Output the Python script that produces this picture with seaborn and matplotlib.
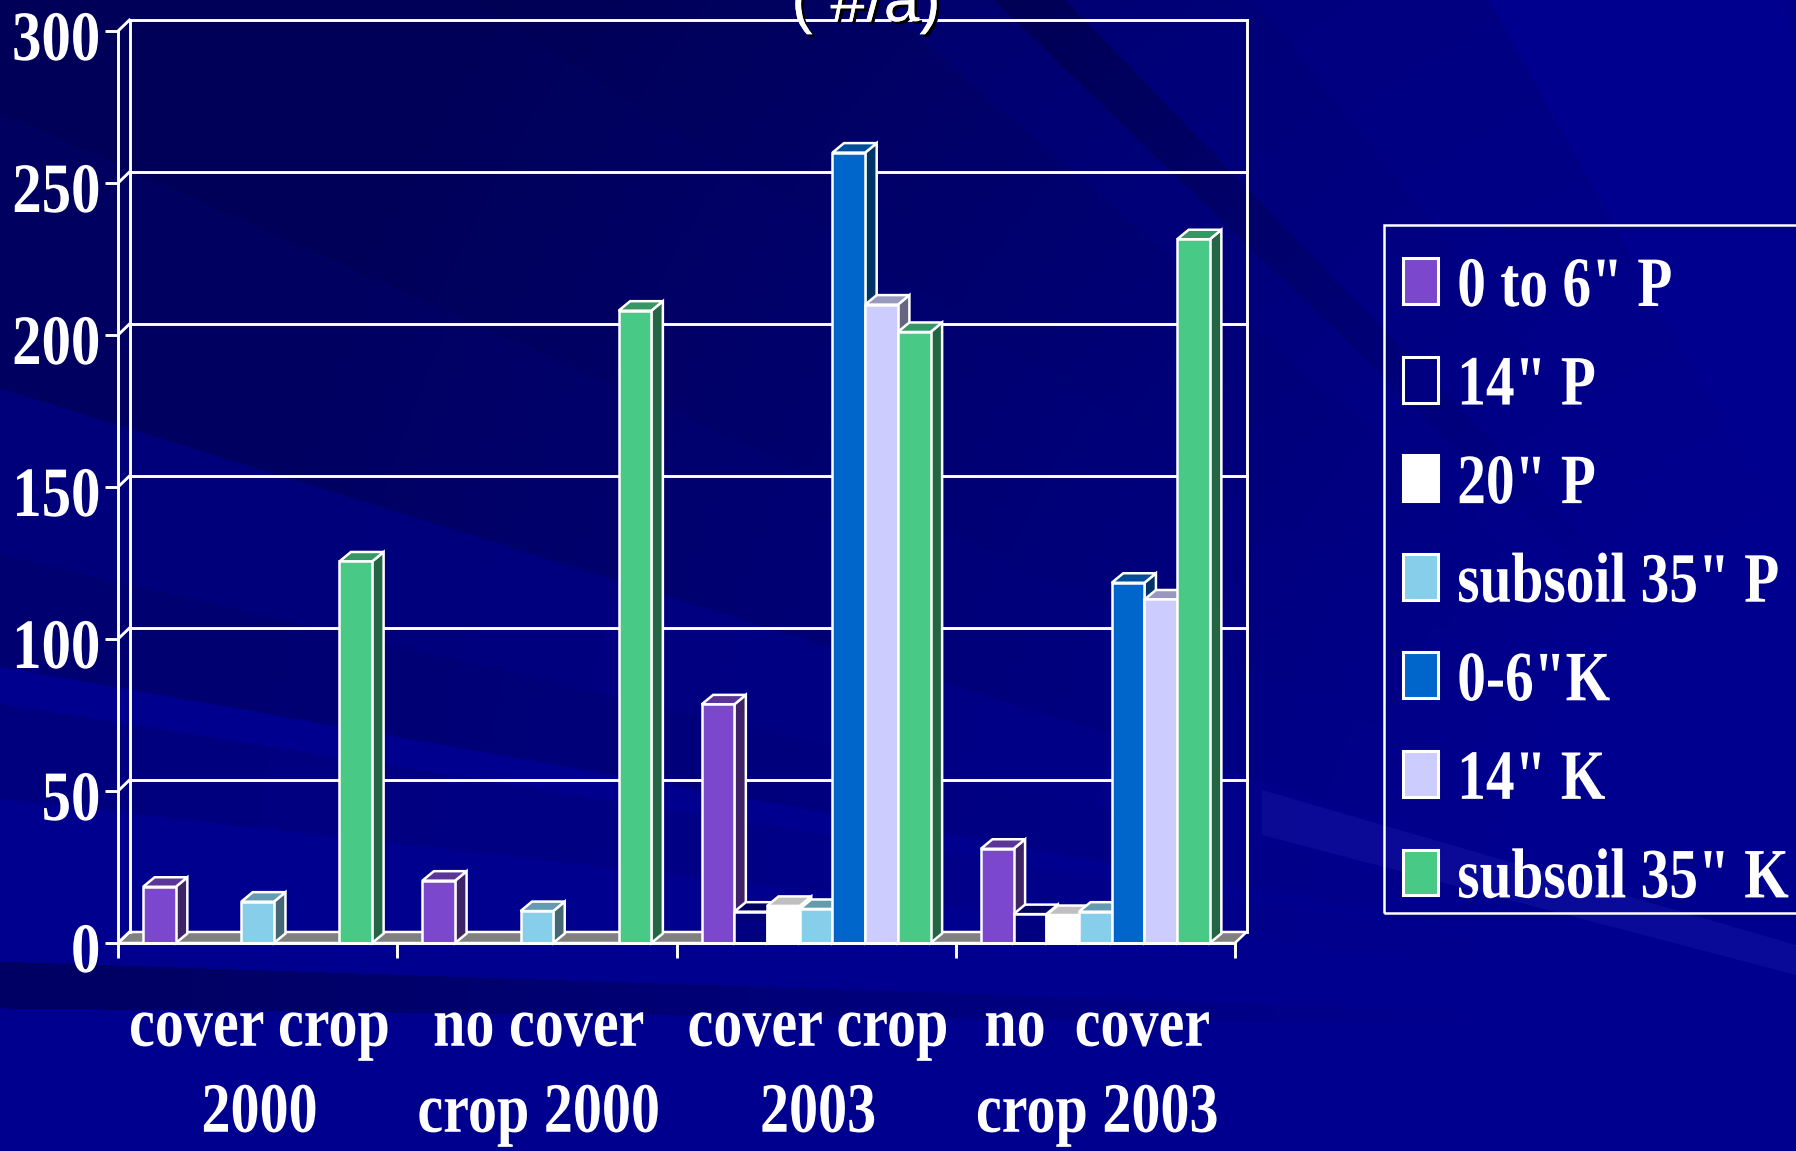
import matplotlib
matplotlib.use("Agg")
import numpy as np
import pandas as pd
import matplotlib.pyplot as plt
import seaborn as sns
from matplotlib.patches import Patch, Polygon, Rectangle
from matplotlib.patheffects import AbstractPathEffect, Normal, withSimplePatchShadow
from matplotlib.transforms import Affine2D

# Soil test values by treatment and depth
categories = ['cover crop\n2000', 'no cover\ncrop 2000', 'cover crop\n2003', 'no  cover\ncrop 2003']
series_names = ['0 to 6" P', '14" P', '20" P', 'subsoil 35" P', '0-6"K', '14" K', 'subsoil 35" K']
p_0_6 = [18.5, 20.5, 78.5, 31]
p_14 = [np.nan, np.nan, 10.3, 9.5]
p_20 = [np.nan, np.nan, 12.2, 9.2]
p_35 = [13.6, 10.5, 11.2, 10.3]
k_0_6 = [np.nan, np.nan, 260, 118.5]
k_14 = [np.nan, np.nan, 210, 113]
k_35 = [125.5, 208, 201, 231.5]
y_ticks = [0, 50, 100, 150, 200, 250, 300]
colors = ['#7B47CC', '#000080', '#FFFFFF', '#87CEEB', '#0066CC', '#CCCCFF', '#48C985']

W, H = 1796, 1151
DPI = 100
SERIF = 'Liberation Serif'
FONT_PT = 51
LINE_LW = 2.1
BAR_LW = 1.8


class Condense(AbstractPathEffect):
    """Narrows a text run horizontally around one end or its middle, with an optional pixel shift."""

    def __init__(self, factor=0.8, anchor='center', shift=(0, 0)):
        super().__init__()
        self.factor = factor
        self.anchor = anchor
        self.shift = shift

    def draw_path(self, renderer, gc, tpath, affine, rgbFace=None):
        ext = tpath.get_extents()
        pivot = {'left': 0.0, 'right': ext.x1, 'center': (ext.x0 + ext.x1) / 2}[self.anchor]
        squeeze = Affine2D().translate(-pivot, 0).scale(self.factor, 1).translate(pivot, 0)
        renderer.draw_path(gc, tpath, squeeze + affine + Affine2D().translate(*self.shift), rgbFace)


fig = plt.figure(figsize=(W / DPI, H / DPI), dpi=DPI)
sns.set_style('white')

# Slide backdrop: navy rays fanning out from beyond the lower right corner, fading toward it
bg = fig.add_axes([0, 0, 1, 1], zorder=-10)
bg.axis('off')
px, py = np.meshgrid(np.arange(W) + 0.5, np.arange(H) + 0.5)
apex_x, apex_y = 2060, 1030
theta = np.degrees(np.arctan2(apex_y - py, apex_x - px))
dist = np.hypot(apex_x - px, apex_y - py)
bands = [(0.6, 1.9, 42), (6.4, 9, 15), (10, 13, 30), (13, 17.3, 20), (17.3, 24, 46), (24, 33, 54),
         (33, 41, 58), (41, 44, 44), (44, 46, 85), (46, 52, 40), (52, 61, 28), (75, 82, 15)]
dark = np.zeros_like(px)
for lo, hi, amount in bands:
    dark[(theta >= lo) & (theta < hi)] = amount
fade = np.clip((dist - 600) / 1300, 0, 1)
blue = (142 - dark * fade) / 255
backdrop = np.dstack([np.zeros_like(blue), np.zeros_like(blue), blue])
bg.imshow(backdrop, extent=(0, W, H, 0), aspect='auto', interpolation='nearest')
bg.set_xlim(0, W)
bg.set_ylim(H, 0)
bg.add_patch(Polygon([(1262, 790), (1262, 835), (W, 975), (W, 945)], fc='#1A1AA8', ec='none', alpha=0.4))

ax = fig.add_axes([118 / W, 1 - 943 / H, (1235 - 118) / W, (943 - 31) / H])
ax.patch.set_alpha(0)

px_per_unit_x = (1235 - 118) / 4
px_per_unit_y = (943 - 31) / 300
wall_dx = 11.5 / px_per_unit_x
wall_dy = 11 / px_per_unit_y
bar_dx = 11.5 / px_per_unit_x
bar_dy = 9.5 / px_per_unit_y

table = pd.DataFrame({'group': categories})
for name, vals in zip(series_names, [p_0_6, p_14, p_20, p_35, k_0_6, k_14, k_35]):
    table[name] = vals
long_table = table.melt(id_vars='group', var_name='series', value_name='value')

sns.barplot(data=long_table, x='group', y='value', hue='series', hue_order=series_names,
            order=categories, palette=colors, saturation=1, width=0.82, gap=0,
            edgecolor='white', linewidth=BAR_LW, legend=False, ax=ax)
ax.set_xlim(-0.5, 3.5)
ax.set_ylim(0, 300)
ax.set_xlabel('')
ax.set_ylabel('')
front_bars = [p for p in ax.patches if isinstance(p, Rectangle)]

# Chart walls and floor, set back from the front plane
x0, x1 = -0.5, 3.5
ax.add_patch(Polygon([(x0, 0), (x1, 0), (x1 + wall_dx, wall_dy), (x0 + wall_dx, wall_dy)],
                     fc='#808080', ec='white', lw=BAR_LW, zorder=1, clip_on=False))
line_kw = dict(color='white', lw=LINE_LW, zorder=1.2, clip_on=False, solid_capstyle='projecting')
for v in y_ticks:
    ax.plot([x0, x0 + wall_dx], [v, v + wall_dy], **line_kw)
    if v:
        ax.plot([x0 + wall_dx, x1 + wall_dx], [v + wall_dy, v + wall_dy], **line_kw)
for xv in (x0 + wall_dx, x1 + wall_dx):
    ax.plot([xv, xv], [wall_dy, 300 + wall_dy], **line_kw)


def shade(color, k):
    r, g, b = matplotlib.colors.to_rgb(color)
    return (r * k, g * k, b * k)


# Extrude each bar, working left to right so neighbours overlap correctly
order = 2.0
for bar in sorted(front_bars, key=lambda p: p.get_x()):
    h = bar.get_height()
    if not np.isfinite(h) or h <= 0:
        continue
    x, w = bar.get_x(), bar.get_width()
    face = bar.get_facecolor()
    ax.add_patch(Polygon([(x + w, 0), (x + w, h), (x + w + bar_dx, h + bar_dy), (x + w + bar_dx, bar_dy)],
                         fc=shade(face, 0.5), ec='white', lw=BAR_LW, zorder=order, clip_on=False))
    ax.add_patch(Polygon([(x, h), (x + w, h), (x + w + bar_dx, h + bar_dy), (x + bar_dx, h + bar_dy)],
                         fc=shade(face, 0.75), ec='white', lw=BAR_LW, zorder=order + 0.01, clip_on=False))
    bar.set_zorder(order + 0.02)
    bar.set_clip_on(False)
    order += 0.1

# Axes lines, ticks and labels
sns.despine(ax=ax, top=True, right=True)
for side in ('left', 'bottom'):
    ax.spines[side].set_color('white')
    ax.spines[side].set_linewidth(LINE_LW)
    ax.spines[side].set_zorder(20)
ax.set_yticks(y_ticks)
ax.set_xticks([-0.5, 0.5, 1.5, 2.5, 3.5])
ax.set_xticklabels([])
ax.set_xticks([0, 1, 2, 3], labels=categories, minor=True)
ax.tick_params(axis='y', left=True, length=9.4, width=LINE_LW, color='white', pad=3.6, labelcolor='white')
ax.tick_params(axis='x', which='major', bottom=True, length=11, width=LINE_LW, color='white')
ax.tick_params(axis='x', which='minor', bottom=True, length=0, pad=38, labelcolor='white')
for lab in ax.get_yticklabels():
    lab.set_fontfamily(SERIF)
    lab.set_fontweight('bold')
    lab.set_fontsize(FONT_PT)
    lab.set_path_effects([Condense(0.83, 'right', shift=(1, -4))])
for lab in ax.get_xticklabels(minor=True):
    lab.set_fontfamily(SERIF)
    lab.set_fontweight('bold')
    lab.set_fontsize(FONT_PT)
    lab.set_linespacing(1.42)
    lab.set_path_effects([Condense(0.82, 'center', shift=(2, 0))])

# Legend entries inside a box that runs off the right edge of the slide
handles = [Patch(facecolor=c, edgecolor='white', linewidth=2.2, label=n)
           for c, n in zip(colors, series_names)]
leg = ax.legend(handles=handles, loc='upper left',
                bbox_to_anchor=(1402.7 / W, 1 - 256 / H), bbox_transform=fig.transFigure,
                frameon=False, prop={'family': SERIF, 'weight': 'bold', 'size': FONT_PT},
                labelcolor='white', handlelength=0.5, handleheight=0.62,
                handletextpad=0.27, labelspacing=0.474, borderpad=0, borderaxespad=0)
for t in leg.get_texts():
    t.set_path_effects([Condense(0.81, 'left')])
fig.add_artist(Rectangle((1384 / W, 1 - 912.5 / H), 500 / W, (912.5 - 225) / H,
                         transform=fig.transFigure, fc='none', ec='white', lw=1.8))

# Units line from the slide heading, cut by the top edge
fig.text(866 / W, 1 - 21 / H, '( #/a)', family='Liberation Sans', fontsize=46, color='white',
         ha='center', va='baseline',
         path_effects=[withSimplePatchShadow(offset=(2, -2), shadow_rgbFace='black', alpha=1), Normal()])

fig.savefig('out.png', dpi=DPI)
